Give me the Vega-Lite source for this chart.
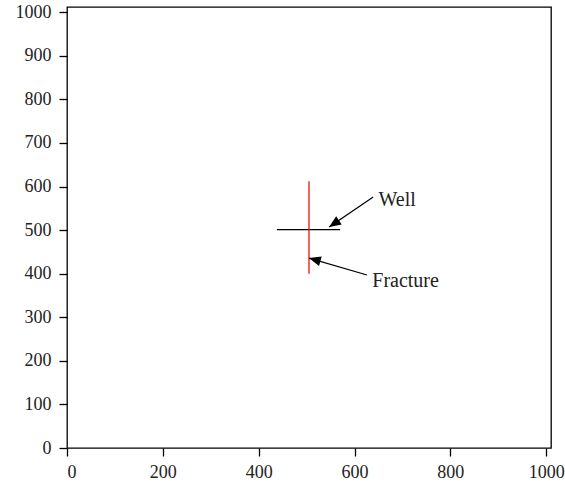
{
  "$schema": "https://vega.github.io/schema/vega-lite/v6.json",
  "width": 484,
  "height": 441,
  "autosize": "none",
  "padding": {"left": 67, "top": 7, "right": 14, "bottom": 39},
  "config": {
    "view": {"stroke": "#000000", "strokeWidth": 1.3},
    "font": "Liberation Serif",
    "axis": {
      "grid": false,
      "domain": false,
      "tickColor": "#000000",
      "tickSize": 8,
      "tickWidth": 1.3,
      "labelColor": "#222222",
      "labelFont": "Liberation Serif",
      "labelFontSize": 18,
      "format": "d",
      "title": null
    },
    "axisX": {"labelPadding": 7},
    "axisY": {"labelPadding": 8}
  },
  "datasets": {
    "well": [{"x": 438, "x2": 570, "y": 501}],
    "fracture": [{"x": 505, "y": 400, "y2": 612}],
    "arrows": [
      {"name": "Well", "tipX": 547, "tipY": 507, "tailX": 639, "tailY": 576, "angle": 236},
      {"name": "Fracture", "tipX": 505, "tipY": 436, "tailX": 626, "tailY": 397, "angle": 286}
    ],
    "labels": [
      {"name": "Well", "x": 650, "y": 555},
      {"name": "Fracture", "x": 637, "y": 369}
    ]
  },
  "layer": [
    {
      "data": {"name": "well"},
      "mark": {"type": "rule", "color": "#000000", "strokeWidth": 1.3},
      "encoding": {
        "x": {"field": "x", "type": "quantitative", "scale": {"domain": [0, 1010], "nice": false, "zero": false},
              "axis": {"values": [0, 200, 400, 600, 800, 1000]}},
        "x2": {"field": "x2"},
        "y": {"field": "y", "type": "quantitative", "scale": {"domain": [0, 1012], "nice": false, "zero": false},
              "axis": {"values": [0, 100, 200, 300, 400, 500, 600, 700, 800, 900, 1000]}}
      }
    },
    {
      "data": {"name": "fracture"},
      "mark": {"type": "rule", "color": "#e8120c", "strokeWidth": 1.3},
      "encoding": {
        "x": {"field": "x", "type": "quantitative"},
        "y": {"field": "y", "type": "quantitative"},
        "y2": {"field": "y2"}
      }
    },
    {
      "data": {"name": "arrows"},
      "mark": {"type": "rule", "color": "#000000", "strokeWidth": 1.3},
      "encoding": {
        "x": {"field": "tailX", "type": "quantitative"},
        "y": {"field": "tailY", "type": "quantitative"},
        "x2": {"field": "tipX"},
        "y2": {"field": "tipY"}
      }
    },
    {
      "data": {"name": "arrows"},
      "mark": {"type": "point", "shape": "M0,0L-0.42,1L0.42,1Z", "filled": true, "color": "#000000", "opacity": 1, "size": 560},
      "encoding": {
        "x": {"field": "tipX", "type": "quantitative"},
        "y": {"field": "tipY", "type": "quantitative"},
        "angle": {"field": "angle", "type": "quantitative", "scale": null}
      }
    },
    {
      "data": {"name": "labels"},
      "mark": {"type": "text", "align": "left", "baseline": "alphabetic", "fontSize": 20, "color": "#222222", "font": "Liberation Serif"},
      "encoding": {
        "x": {"field": "x", "type": "quantitative"},
        "y": {"field": "y", "type": "quantitative"},
        "text": {"field": "name"}
      }
    }
  ]
}
